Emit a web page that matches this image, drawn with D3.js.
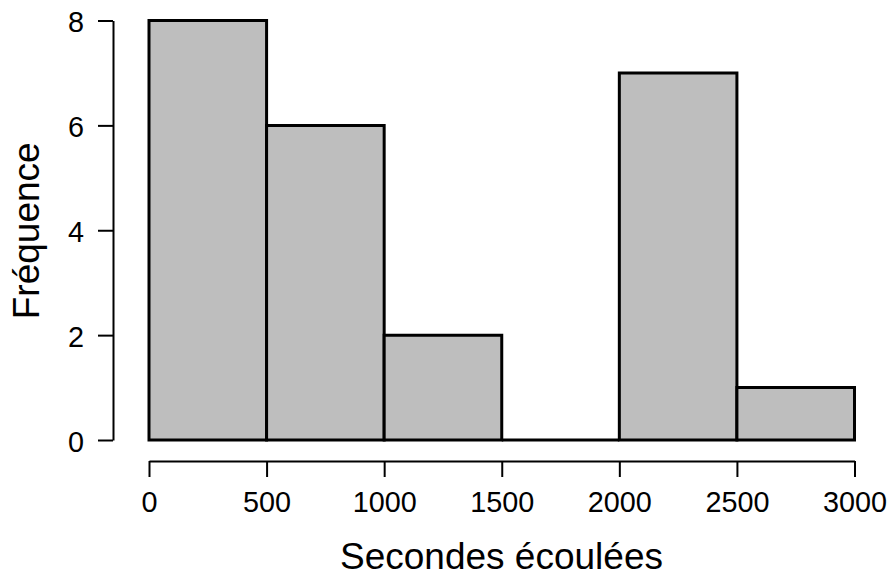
<!DOCTYPE html>
<html>
<head>
<meta charset="utf-8">
<script src="https://cdn.jsdelivr.net/npm/d3@7"></script>
<style>
  html, body { margin: 0; padding: 0; background: #ffffff; }
  svg { display: block; }
  text { font-family: "Liberation Sans", Arial, Helvetica, sans-serif; fill: #000; }
</style>
</head>
<body>
<script>
// Histogram of elapsed seconds, bins of 500 s
const binEdges = [0, 500, 1000, 1500, 2000, 2500, 3000];
const counts = [8, 6, 2, 0, 7, 1];
const xTicks = [0, 500, 1000, 1500, 2000, 2500, 3000];
const yTicks = [0, 2, 4, 6, 8];
const xTitle = "Secondes écoulées";
const yTitle = "Fréquence";

const W = 891, H = 578;
const svg = d3.select("body").append("svg").attr("width", W).attr("height", H);

const x = d3.scaleLinear().domain([0, 3000]).range([149, 854.5]);
const y = d3.scaleLinear().domain([0, 8]).range([440, 20.5]);

const bins = counts.map((c, i) => ({ x0: binEdges[i], x1: binEdges[i + 1], n: c }));

// bars as closed paths so an empty bin still shows as a line on the baseline
svg.append("g").selectAll("path").data(bins).join("path")
  .attr("d", d => {
    const p = d3.path();
    p.moveTo(x(d.x0), y(0));
    p.lineTo(x(d.x0), y(d.n));
    p.lineTo(x(d.x1), y(d.n));
    p.lineTo(x(d.x1), y(0));
    p.closePath();
    return p.toString();
  })
  .attr("fill", "#bebebe")
  .attr("stroke", "#000")
  .attr("stroke-width", 3)
  .attr("stroke-linejoin", "miter");

const axisFont = 28.8;

// x axis, offset below the bars
const gx = svg.append("g").attr("transform", "translate(0,461)")
  .call(d3.axisBottom(x).tickValues(xTicks).tickFormat(d3.format("d"))
    .tickSize(16).tickSizeOuter(0));
gx.select(".domain").attr("stroke", "#000").attr("stroke-width", 2);
gx.selectAll(".tick line").attr("stroke", "#000").attr("stroke-width", 2);
gx.selectAll(".tick text")
  .attr("y", 51).attr("dy", null)
  .style("font-size", axisFont + "px")
  .attr("font-family", null);

// y axis, offset left of the bars
const gy = svg.append("g").attr("transform", "translate(113,0)")
  .call(d3.axisLeft(y).tickValues(yTicks).tickFormat(d3.format("d"))
    .tickSize(15).tickSizeOuter(0).tickPadding(14));
gy.select(".domain").attr("stroke", "#000").attr("stroke-width", 2);
gy.selectAll(".tick line").attr("stroke", "#000").attr("stroke-width", 2);
gy.selectAll(".tick text")
  .attr("dy", null).attr("y", 11.4)
  .style("font-size", axisFont + "px")
  .attr("font-family", null);
svg.selectAll(".tick text").style("fill", "#000");

// axis titles
svg.append("text")
  .attr("x", 501.5).attr("y", 569)
  .attr("text-anchor", "middle")
  .style("font-size", "37px")
  .text(xTitle);

svg.append("text")
  .attr("transform", "translate(39,230.8) rotate(-90)")
  .attr("text-anchor", "middle")
  .style("font-size", "37px")
  .text(yTitle);
</script>
</body>
</html>
